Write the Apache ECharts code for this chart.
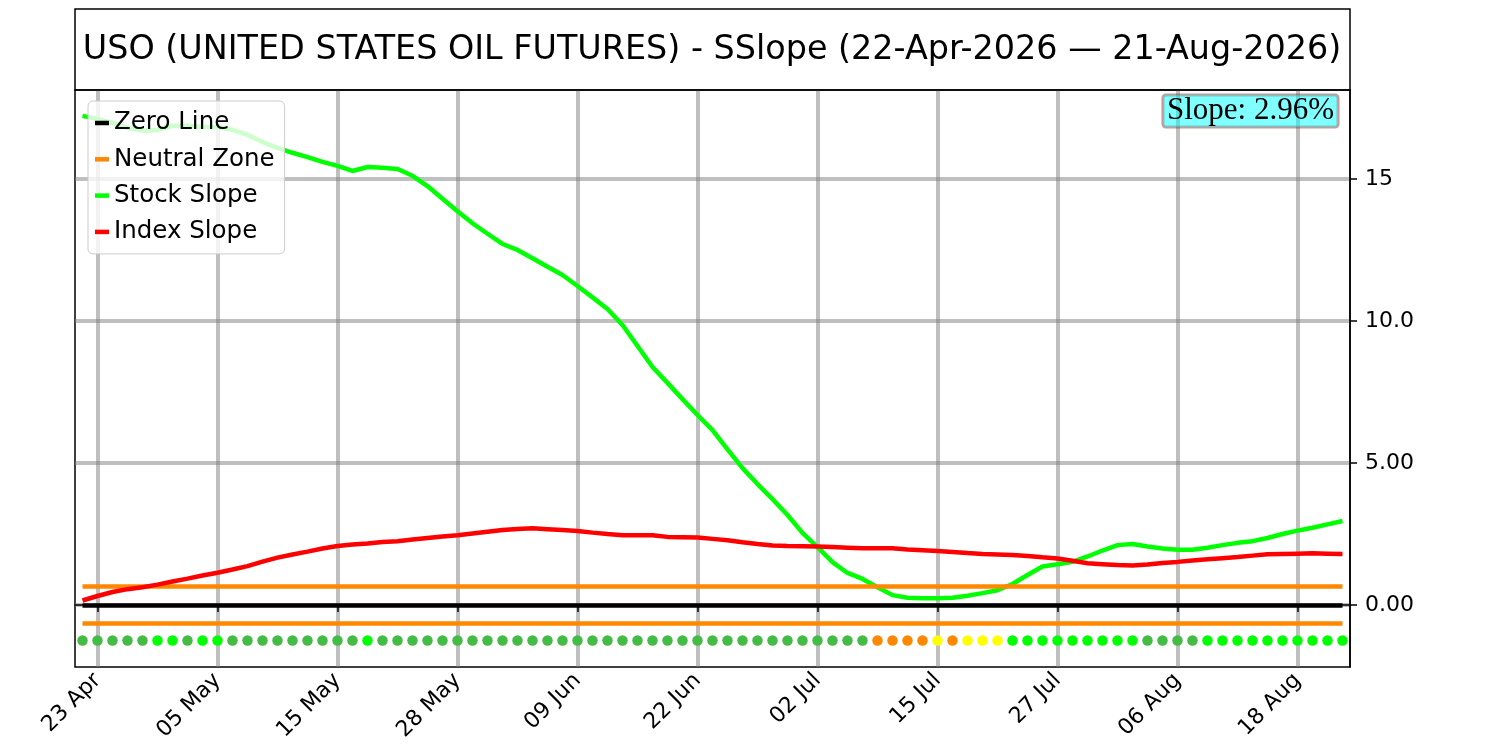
<!DOCTYPE html>
<html>
<head>
<meta charset="utf-8">
<script src="https://cdn.jsdelivr.net/npm/echarts@6/dist/echarts.min.js"></script>
<style>
html,body{margin:0;padding:0;background:#fff;}
#chart{width:1500px;height:750px;}
</style>
</head>
<body>
<div id="chart"></div>
<script>
// ---------- data ----------
const titleText = 'USO (UNITED STATES OIL FUTURES) - SSlope (22-Apr-2026 \u2014 21-Aug-2026)';
const slopeLabel = 'Slope: 2.96%';

const categories = [
  '22 Apr','23 Apr','24 Apr','27 Apr','28 Apr','29 Apr','30 Apr',
  '01 May','04 May','05 May','06 May','07 May','08 May','11 May','12 May','13 May','14 May','15 May',
  '18 May','19 May','20 May','21 May','22 May','26 May','27 May','28 May','29 May',
  '01 Jun','02 Jun','03 Jun','04 Jun','05 Jun','08 Jun','09 Jun','10 Jun','11 Jun','12 Jun',
  '15 Jun','16 Jun','17 Jun','18 Jun','22 Jun','23 Jun','24 Jun','25 Jun','26 Jun','29 Jun','30 Jun',
  '01 Jul','02 Jul','06 Jul','07 Jul','08 Jul','09 Jul','10 Jul','13 Jul','14 Jul','15 Jul',
  '16 Jul','17 Jul','20 Jul','21 Jul','22 Jul','23 Jul','24 Jul','27 Jul','28 Jul','29 Jul','30 Jul','31 Jul',
  '03 Aug','04 Aug','05 Aug','06 Aug','07 Aug','10 Aug','11 Aug','12 Aug','13 Aug','14 Aug',
  '17 Aug','18 Aug','19 Aug','20 Aug','21 Aug'
];

const stockSlope = [
  17.22,17.11,16.97,16.80,16.69,16.73,16.87,16.87,16.83,16.83,
  16.73,16.55,16.30,16.09,15.92,15.77,15.60,15.46,15.28,15.42,
  15.39,15.35,15.11,14.75,14.30,13.86,13.44,13.07,12.71,12.50,
  12.21,11.91,11.62,11.23,10.83,10.42,9.86,9.12,8.38,7.82,
  7.25,6.69,6.16,5.48,4.82,4.26,3.73,3.17,2.54,2.04,
  1.51,1.13,0.92,0.63,0.35,0.26,0.24,0.24,0.26,0.33,
  0.42,0.52,0.74,1.06,1.36,1.44,1.52,1.71,1.92,2.11,
  2.15,2.06,1.99,1.95,1.95,2.02,2.11,2.19,2.25,2.36,
  2.50,2.62,2.72,2.84,2.96
];

const indexSlope = [
  0.16,0.32,0.46,0.56,0.63,0.72,0.83,0.93,1.04,1.14,
  1.25,1.37,1.53,1.67,1.78,1.88,1.99,2.08,2.13,2.17,
  2.22,2.25,2.31,2.36,2.41,2.46,2.52,2.58,2.64,2.68,
  2.70,2.67,2.64,2.61,2.55,2.50,2.46,2.46,2.46,2.40,
  2.39,2.38,2.33,2.28,2.21,2.15,2.10,2.08,2.07,2.06,
  2.04,2.02,2.00,2.00,2.00,1.96,1.93,1.90,1.87,1.83,
  1.80,1.78,1.76,1.73,1.68,1.64,1.56,1.47,1.44,1.41,
  1.39,1.43,1.48,1.52,1.57,1.61,1.65,1.69,1.74,1.79,
  1.80,1.81,1.82,1.81,1.80
];

// signal dots: G = green, L = lime, O = orange, Y = yellow
const dotCodes = [
  'G','G','G','G','G','L','L','G','L','L',
  'G','G','G','G','G','G','G','G','G','L',
  'G','G','G','G','G','G','G','G','G','G',
  'G','G','G','G','G','G','G','G','G','G',
  'G','G','G','G','G','G','G','G','G','G',
  'G','G','G','O','O','O','O','Y','O','Y',
  'Y','Y','L','L','L','L','L','L','L','L',
  'L','G','G','G','G','L','L','L','L','L',
  'L','L','L','L','L'
];
const dotLevel = -1.25;

const zeroLevel = 0;
const neutralUpper = 0.65;
const neutralLower = -0.65;

const yTickValues = [0, 5, 10, 15];
const yTickLabels = ['0.00', '5.00', '10.0', '15'];

// ---------- styles ----------
const dotColorMap = { G: '#44bb44', L: '#00ff00', O: '#ff8800', Y: '#ffff00' };
const FONT = 'DejaVu Sans';

const chart = echarts.init(document.getElementById('chart'), null, { renderer: 'canvas' });

const tickShown = (idx) => idx % 8 === 1;
const first = categories[0];
const last = categories[categories.length - 1];
const hLine = (v) => [{ coord: [first, v] }, { coord: [last, v] }];

const dotData = categories.map((c, i) => ({
  value: [c, dotLevel],
  itemStyle: { color: dotColorMap[dotCodes[i]], opacity: 1 }
}));

chart.setOption({
  animation: false,
  backgroundColor: '#ffffff',
  grid: {
    left: 75, right: 150, top: 90, bottom: 83,
    show: true, borderColor: '#000', borderWidth: 1.5, backgroundColor: 'transparent'
  },
  graphic: [
    {
      type: 'rect', z: 10,
      shape: { x: 75, y: 9, width: 1275, height: 81 },
      style: { fill: 'none', stroke: '#000', lineWidth: 1.5 }
    },
    {
      type: 'text', z: 10,
      x: 712, y: 50,
      style: {
        text: titleText, fill: '#000',
        font: '33.4px "DejaVu Sans"', align: 'center', verticalAlign: 'middle'
      }
    },
    {
      type: 'text', z: 10,
      x: 1338, y: 95,
      style: {
        text: slopeLabel, fill: '#000',
        font: '31px "Liberation Serif"', align: 'right', verticalAlign: 'top',
        backgroundColor: 'rgba(0,255,255,0.5)',
        borderColor: 'rgba(165,42,42,0.5)', borderWidth: 1.5, borderRadius: 3,
        padding: [0, 4, 1, 4]
      }
    }
  ],
  legend: {
    left: 88, top: 101,
    orient: 'vertical',
    icon: 'rect', itemWidth: 14, itemHeight: 4.5, itemGap: 10.3,
    padding: [9, 10, 9, 7],
    backgroundColor: 'rgba(255,255,255,0.8)',
    borderColor: '#cccccc', borderWidth: 1, borderRadius: 5,
    textStyle: { fontFamily: FONT, fontSize: 24.5, color: '#000', lineHeight: 26 },
    data: ['Zero Line', 'Neutral Zone', 'Stock Slope', 'Index Slope'],
    z: 20
  },
  xAxis: {
    type: 'category',
    data: categories,
    boundaryGap: true,
    axisLine: { show: true, lineStyle: { color: '#000', width: 1.5 } },
    axisTick: { show: true, interval: tickShown, alignWithLabel: true, length: 7, lineStyle: { color: '#000', width: 1.5 } },
    axisLabel: { interval: tickShown, rotate: 45, fontFamily: FONT, fontSize: 22, color: '#000', margin: 10 },
    splitLine: { show: true, interval: tickShown, alignWithLabel: true, lineStyle: { color: 'rgba(128,128,128,0.5)', width: 4 } }
  },
  yAxis: {
    type: 'value',
    position: 'right',
    min: -2.18, max: 18.13,
    axisLine: { show: true, lineStyle: { color: '#000', width: 1.5 } },
    axisTick: { show: true, customValues: yTickValues, length: 7, lineStyle: { color: '#000', width: 1.5 } },
    axisLabel: {
      customValues: yTickValues,
      fontFamily: FONT, fontSize: 22, color: '#000', margin: 15,
      formatter: (v) => { const k = yTickValues.indexOf(v); return k >= 0 ? yTickLabels[k] : ''; }
    },
    splitLine: { show: true, lineStyle: { color: 'rgba(128,128,128,0.5)', width: 4 } }
  },
  series: [
    {
      name: 'Zero Line', type: 'line', data: [], z: 3,
      itemStyle: { color: '#000' }, lineStyle: { color: '#000', width: 4.5 },
      markLine: { silent: true, symbol: 'none', label: { show: false },
        lineStyle: { color: '#000', width: 4.5, type: 'solid' }, data: [hLine(zeroLevel)] }
    },
    {
      name: 'Neutral Zone', type: 'line', data: [], z: 3,
      itemStyle: { color: '#ff8800' }, lineStyle: { color: '#ff8800', width: 4.5 },
      markLine: { silent: true, symbol: 'none', label: { show: false },
        lineStyle: { color: '#ff8800', width: 4.5, type: 'solid' },
        data: [hLine(neutralUpper), hLine(neutralLower)] }
    },
    {
      name: 'Stock Slope', type: 'line', data: stockSlope, z: 4,
      showSymbol: false, symbol: 'none',
      itemStyle: { color: '#00ff00' }, lineStyle: { color: '#00ff00', width: 4.5 }
    },
    {
      name: 'Index Slope', type: 'line', data: indexSlope, z: 5,
      showSymbol: false, symbol: 'none',
      itemStyle: { color: '#ff0000' }, lineStyle: { color: '#ff0000', width: 4.5 }
    },
    {
      name: 'Signal', type: 'scatter', data: dotData, z: 5,
      symbol: 'circle', symbolSize: 10.5
    }
  ]
});
</script>
</body>
</html>
